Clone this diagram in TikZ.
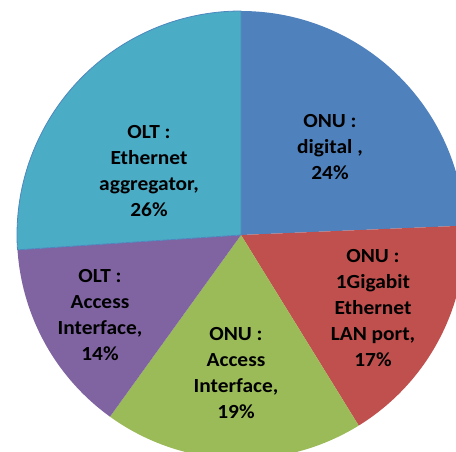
\documentclass[tikz,border=0pt]{standalone}
\usepackage{fontspec}
\setmainfont{Carlito}[FakeStretch=1.07]
\definecolor{sBlue}{HTML}{4F81BD}
\definecolor{sRed}{HTML}{C0504D}
\definecolor{sGreen}{HTML}{9BBB59}
\definecolor{sPurple}{HTML}{8064A2}
\definecolor{sTeal}{HTML}{4BACC6}
\begin{document}
\begin{tikzpicture}[x=1pt,y=1pt,
  lbl/.style={align=center,font=\fontsize{20}{26}\selectfont\bfseries,text=black,inner sep=0pt}]
\useasboundingbox (0,0) rectangle (456,451);
\clip (0,0) rectangle (456,451);
\coordinate (c) at (241,216);
\def\R{224}
\fill[sBlue] (c) -- ++(90:\R) arc[start angle=90,end angle=2.4,radius=\R] -- cycle;
\fill[sRed] (c) -- ++(2.4:\R) arc[start angle=2.4,end angle=-58.3,radius=\R] -- cycle;
\fill[sGreen] (c) -- ++(-58.3:\R) arc[start angle=-58.3,end angle=-125.8,radius=\R] -- cycle;
\fill[sPurple] (c) -- ++(-125.8:\R) arc[start angle=-125.8,end angle=-176.2,radius=\R] -- cycle;
\fill[sTeal,draw=sBlue!85!sTeal,line width=0.8pt] (c) -- ++(-176.2:\R) arc[start angle=-176.2,end angle=-270,radius=\R] -- cycle;
\node[lbl] (lblue) at (330,304) {ONU :\\digital ,\\24\%};
\node[lbl] (lteal) at (149,280) {OLT :\\Ethernet\\aggregator,\\26\%};
\node[lbl] (lred) at (373,142.5) {ONU :\\1Gigabit\\Ethernet\\LAN port,\\17\%};
\node[lbl] (lgreen) at (236,77.5) {ONU :\\Access\\Interface,\\19\%};
\node[lbl] (lpurple) at (100,136) {OLT :\\Access\\Interface,\\14\%};
\end{tikzpicture}
\end{document}
